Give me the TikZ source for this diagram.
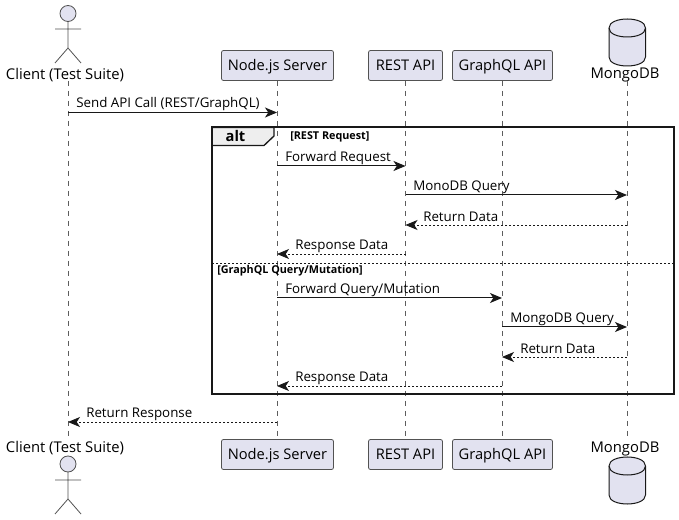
\documentclass[tikz,border=0pt]{standalone}
\usepackage{fontspec}
\setmainfont{Open Sans}
\usetikzlibrary{arrows.meta}
\definecolor{partfill}{HTML}{E2E2F0}
\definecolor{partline}{HTML}{181818}
\definecolor{tabfill}{HTML}{EEEEEE}
\tikzset{
  part/.style={draw=partline!75, line width=0.6pt, fill=partfill, rectangle, rounded corners=1.5pt, minimum height=22.5pt, inner xsep=0pt, text height=9pt, text depth=1.5pt, font=\fontsize{11}{13}\selectfont},
  actorlabel/.style={font=\fontsize{11.1}{13}\selectfont},
  lifeline/.style={draw=partline!70, line width=0.4pt, dash pattern=on 3.75pt off 3.75pt},
  figure/.style={draw=partline!75, line width=0.6pt, fill=partfill},
  call/.style={draw=partline, line width=0.75pt, -{Stealth[length=9pt,width=7.5pt,inset=2.5pt]}},
  reply/.style={call, line width=0.6pt, dash pattern=on 1.5pt off 1.5pt},
  msg/.style={anchor=west, inner sep=0pt, font=\fontsize{10}{12}\selectfont},
  guard/.style={anchor=west, inner sep=0pt, font=\fontsize{8.1}{10}\selectfont\bfseries},
}
\begin{document}
\begin{tikzpicture}[x=0.75pt,y=-0.75pt]
\useasboundingbox[fill=white] (0,0) rectangle (679,520);

% top row
\node[actorlabel] (clientTop) at (65,75) {Client (Test Suite)};
\node[part, minimum width=84pt] (serverTop) at (277.5,65.5) {Node.js Server};
\node[part, minimum width=55.5pt] (restTop) at (405.5,65.5) {REST API};
\node[part, minimum width=75pt] (graphTop) at (502.5,65.5) {GraphQL API};
\node[actorlabel] (mongoTop) at (625,75) {MongoDB};

% bottom row
\node[actorlabel] (clientBot) at (65,448) {Client (Test Suite)};
\node[part, minimum width=84pt] (serverBot) at (277.5,454.5) {Node.js Server};
\node[part, minimum width=55.5pt] (restBot) at (405.5,454.5) {REST API};
\node[part, minimum width=75pt] (graphBot) at (502.5,454.5) {GraphQL API};
\node[actorlabel] (mongoBot) at (625,449) {MongoDB};

% lifelines
\coordinate (clientA) at (68,81);
\coordinate (clientB) at (68,437);
\coordinate (mongoA) at (627.5,81);
\coordinate (mongoB) at (627.5,437);
\draw[lifeline] (clientA) -- (clientB);
\draw[lifeline] (serverTop) -- (serverBot);
\draw[lifeline] (restTop) -- (restBot);
\draw[lifeline] (graphTop) -- (graphBot);
\draw[lifeline] (mongoA) -- (mongoB);

% actors
\draw[figure] (68,13.5) circle (8);
\draw[partline!75, line width=0.6pt] (68,21.5) -- (68,48) (55,29) -- (81,29) (55,63) -- (68,48) -- (81,63);
\draw[figure] (68,464) circle (8);
\draw[partline!75, line width=0.6pt] (68,472) -- (68,499) (55,480) -- (81,480) (55,514) -- (68,499) -- (81,514);

% databases
\draw[figure, draw=partline, line width=0.75pt] (609,28) .. controls (609,16) and (645.5,16) .. (645.5,28) -- (645.5,57) .. controls (645.5,69) and (609,69) .. (609,57) -- cycle;
\draw[partline, line width=0.75pt] (609,28) .. controls (609,40) and (645.5,40) .. (645.5,28);
\draw[figure, draw=partline, line width=0.75pt] (609,466) .. controls (609,454) and (645.5,454) .. (645.5,466) -- (645.5,495) .. controls (645.5,507) and (609,507) .. (609,495) -- cycle;
\draw[partline, line width=0.75pt] (609,466) .. controls (609,478) and (645.5,478) .. (645.5,466);

% alt frame
\node[draw=none, minimum size=0pt, inner sep=0pt] (altTab) at (235.5,136.5) {};
\draw[fill=tabfill, draw=partline, line width=1pt] (212,127.5) -- (274,127.5) -- (274,136) -- (264,145.5) -- (212,145.5) -- cycle;
\draw[partline, line width=1.5pt] (212,127.5) rectangle (673.5,394);
\node[inner sep=0pt, font=\fontsize{11}{13}\selectfont\bfseries] at (altTab) {alt};
\node[guard] (restGuard) at (290,136.5) {[REST Request]};
\coordinate (elseA) at (212,263);
\coordinate (elseB) at (673.5,263);
\draw[partline, line width=0.5pt, dash pattern=on 1.5pt off 1.5pt] (elseA) -- (elseB);
\node[guard] (graphGuard) at (217,271) {[GraphQL Query/Mutation]};

% messages
\coordinate (c1) at (68,112.5);
\coordinate (s1) at (277,112.5);
\coordinate (s2) at (277,166);
\coordinate (r2) at (405.5,166);
\coordinate (r3) at (405.5,195);
\coordinate (m3) at (627,195);
\coordinate (m4) at (627,225);
\coordinate (r4) at (405.5,225);
\coordinate (r5) at (405.5,254);
\coordinate (s5) at (277,254);
\coordinate (s6) at (277,298);
\coordinate (g6) at (502,298);
\coordinate (g7) at (502,327);
\coordinate (m7) at (627,327);
\coordinate (m8) at (627,357);
\coordinate (g8) at (502,357);
\coordinate (g9) at (502,386);
\coordinate (s9) at (277,386);
\coordinate (s10) at (277,422);
\coordinate (c10) at (68,422);

\draw[call] (c1) -- (s1);
\draw[call] (s2) -- (r2);
\draw[call] (r3) -- (m3);
\draw[reply] (m4) -- (r4);
\draw[reply] (r5) -- (s5);
\draw[call] (s6) -- (g6);
\draw[call] (g7) -- (m7);
\draw[reply] (m8) -- (g8);
\draw[reply] (g9) -- (s9);
\draw[reply] (s10) -- (c10);

\node[msg] (t1) at (76,104) {Send API Call (REST/GraphQL)};
\node[msg] (t2) at (285,158) {Forward Request};
\node[msg] (t3) at (413,187) {MonoDB Query};
\node[msg] (t4) at (423,216.5) {Return Data};
\node[msg] (t5) at (295,246) {Response Data};
\node[msg] (t6) at (285,290) {Forward Query/Mutation};
\node[msg] (t7) at (510,319) {MongoDB Query};
\node[msg] (t8) at (520,348.5) {Return Data};
\node[msg] (t9) at (295,378) {Response Data};
\node[msg] (t10) at (86,414) {Return Response};
\end{tikzpicture}
\end{document}
